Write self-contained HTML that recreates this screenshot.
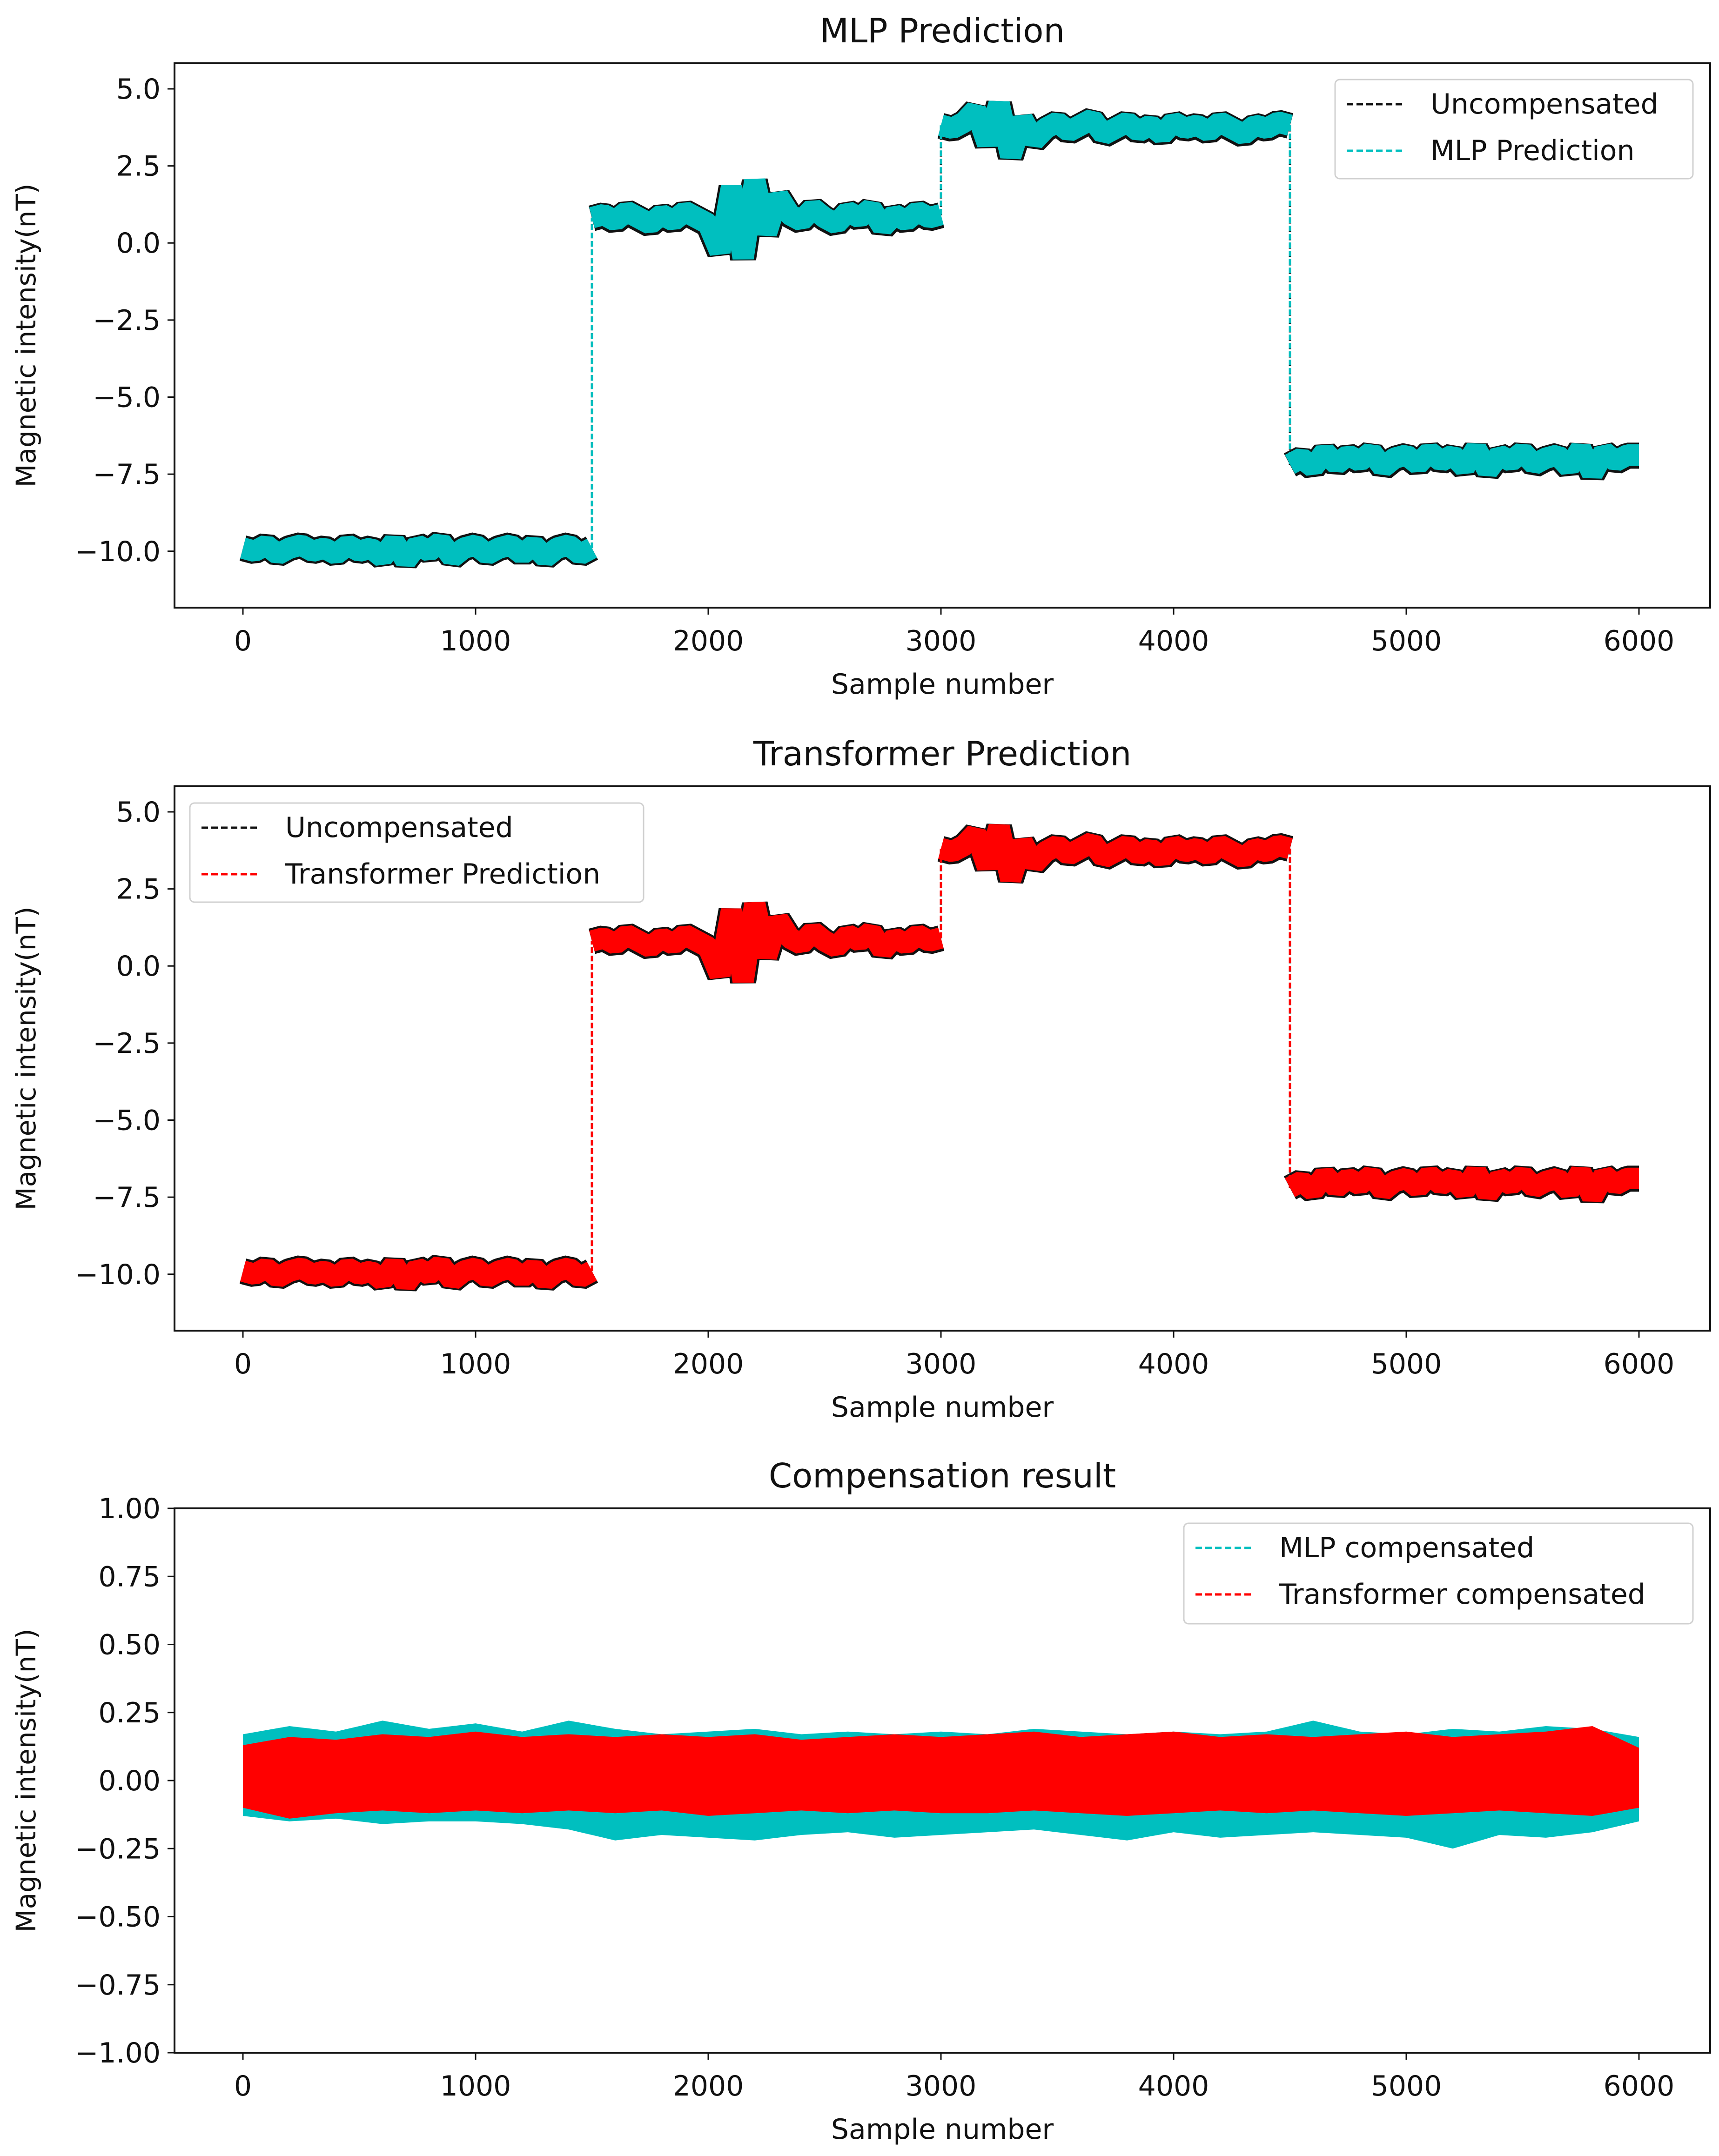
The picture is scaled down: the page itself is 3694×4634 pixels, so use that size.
<!DOCTYPE html>
<html><head><meta charset="utf-8"><style>
html,body{margin:0;padding:0;background:#fff;}
svg{display:block;font-family:"DejaVu Sans","Liberation Sans",sans-serif;}
</style></head><body>
<svg id="fig" width="3694" height="4634" viewBox="0 0 3694 4634" xmlns="http://www.w3.org/2000/svg"></svg>
<script>
// ---- data ----
const xTicks = [0,1000,2000,3000,4000,5000,6000];
const yTicksTop = [5.0,2.5,0.0,-2.5,-5.0,-7.5,-10.0];
const yTicksBottom = [1.00,0.75,0.50,0.25,0.00,-0.25,-0.50,-0.75,-1.00];
const segmentStarts = [0,1500,3000,4500];
const segmentStep = 50;
const uncompensated = [
 [-9.9,-10.0,-9.8,-10.1,-9.9,-9.8,-10.0,-9.9,-10.1,-9.8,-10.0,-9.9,-10.2,-9.7,-10.3,-9.8,-10.0,-9.7,-10.2,-9.9,-9.8,-10.1,-9.9,-9.8,-10.1,-9.8,-10.2,-9.9,-9.8,-10.1,-9.9],
 [0.8,0.9,0.7,1.0,0.8,0.6,0.9,0.7,1.0,0.8,0.6,-0.3,1.8,-0.5,2.0,0.3,1.5,0.9,0.7,1.1,0.8,0.6,1.0,0.8,1.1,0.5,0.9,0.7,1.0,0.8,0.9],
 [3.8,3.7,3.9,4.3,3.2,4.5,2.8,4.0,3.3,3.7,3.9,3.6,3.8,4.0,3.5,3.7,3.9,3.6,3.8,3.5,3.9,3.7,3.8,3.6,3.9,3.7,3.5,3.8,3.7,3.9,3.8],
 [-7.2,-7.0,-7.3,-6.8,-7.2,-6.9,-7.1,-6.8,-7.3,-7.0,-6.9,-7.2,-6.8,-7.1,-6.9,-7.3,-6.7,-7.4,-6.9,-7.1,-6.8,-7.2,-7.0,-6.9,-7.3,-6.7,-7.5,-6.8,-7.1,-6.9,-6.9]
];
const mlpPrediction = [
 [-9.9,-10.0,-9.8,-10.1,-9.9,-9.8,-10.0,-9.9,-10.1,-9.8,-10.0,-9.9,-10.2,-9.7,-10.3,-9.8,-10.0,-9.7,-10.2,-9.9,-9.8,-10.1,-9.9,-9.8,-10.1,-9.8,-10.2,-9.9,-9.8,-10.1,-9.9],
 [0.82,0.92,0.72,1.02,0.82,0.62,0.92,0.72,1.02,0.82,0.62,-0.28,1.82,-0.48,2.02,0.32,1.52,0.92,0.72,1.12,0.82,0.62,1.02,0.82,1.12,0.52,0.92,0.72,1.02,0.82,0.92],
 [3.82,3.72,3.92,4.32,3.22,4.52,2.82,4.02,3.32,3.72,3.92,3.62,3.82,4.02,3.52,3.72,3.92,3.62,3.82,3.52,3.92,3.72,3.82,3.62,3.92,3.72,3.52,3.82,3.72,3.92,3.82],
 [-7.18,-6.98,-7.28,-6.78,-7.18,-6.88,-7.08,-6.78,-7.28,-6.98,-6.88,-7.18,-6.78,-7.08,-6.88,-7.28,-6.68,-7.38,-6.88,-7.08,-6.78,-7.18,-6.98,-6.88,-7.28,-6.68,-7.48,-6.78,-7.08,-6.88,-6.88]
];
const transformerPrediction = [
 [-9.9,-10.0,-9.8,-10.1,-9.9,-9.8,-10.0,-9.9,-10.1,-9.8,-10.0,-9.9,-10.2,-9.7,-10.3,-9.8,-10.0,-9.7,-10.2,-9.9,-9.8,-10.1,-9.9,-9.8,-10.1,-9.8,-10.2,-9.9,-9.8,-10.1,-9.9],
 [0.81,0.91,0.71,1.01,0.81,0.61,0.91,0.71,1.01,0.81,0.61,-0.29,1.81,-0.49,2.01,0.31,1.51,0.91,0.71,1.11,0.81,0.61,1.01,0.81,1.11,0.51,0.91,0.71,1.01,0.81,0.91],
 [3.81,3.71,3.91,4.31,3.21,4.51,2.81,4.01,3.31,3.71,3.91,3.61,3.81,4.01,3.51,3.71,3.91,3.61,3.81,3.51,3.91,3.71,3.81,3.61,3.91,3.71,3.51,3.81,3.71,3.91,3.81],
 [-7.19,-6.99,-7.29,-6.79,-7.19,-6.89,-7.09,-6.79,-7.29,-6.99,-6.89,-7.19,-6.79,-7.09,-6.89,-7.29,-6.69,-7.39,-6.89,-7.09,-6.79,-7.19,-6.99,-6.89,-7.29,-6.69,-7.49,-6.79,-7.09,-6.89,-6.89]
];
const residualX = [0,200,400,600,800,1000,1200,1400,1600,1800,2000,2200,2400,2600,2800,3000,3200,3400,3600,3800,4000,4200,4400,4600,4800,5000,5200,5400,5600,5800,6000];
const mlpUpper = [0.17,0.20,0.18,0.22,0.19,0.21,0.18,0.22,0.19,0.17,0.18,0.19,0.17,0.18,0.17,0.18,0.17,0.19,0.18,0.17,0.18,0.17,0.18,0.22,0.18,0.17,0.19,0.18,0.20,0.19,0.16];
const mlpLower = [-0.13,-0.15,-0.14,-0.16,-0.15,-0.15,-0.16,-0.18,-0.22,-0.20,-0.21,-0.22,-0.20,-0.19,-0.21,-0.20,-0.19,-0.18,-0.20,-0.22,-0.19,-0.21,-0.20,-0.19,-0.20,-0.21,-0.25,-0.20,-0.21,-0.19,-0.15];
const trUpper = [0.13,0.16,0.15,0.17,0.16,0.18,0.16,0.17,0.16,0.17,0.16,0.17,0.15,0.16,0.17,0.16,0.17,0.18,0.16,0.17,0.18,0.16,0.17,0.16,0.17,0.18,0.16,0.17,0.18,0.20,0.12];
const trLower = [-0.10,-0.14,-0.12,-0.11,-0.12,-0.11,-0.12,-0.11,-0.12,-0.11,-0.13,-0.12,-0.11,-0.12,-0.11,-0.12,-0.12,-0.11,-0.12,-0.13,-0.12,-0.11,-0.12,-0.11,-0.12,-0.13,-0.12,-0.11,-0.12,-0.13,-0.10];

// ---- layout ----
const NS = "http://www.w3.org/2000/svg";
const svg = document.getElementById('fig');
const L = 375, R = 3675;
const X0 = 522, PXPER = 0.5;
function xs(v){ return X0 + v*PXPER; }
function mk(tag, attrs, parent){
  const e = document.createElementNS(NS, tag);
  for (const k in attrs) e.setAttribute(k, attrs[k]);
  (parent||svg).appendChild(e);
  return e;
}
function txt(s, x, y, size, anchor, parent){
  const t = mk('text', {x:x, y:y, 'font-size':size, 'text-anchor':anchor||'middle', fill:'#111'}, parent);
  t.textContent = s;
  return t;
}
function fmt(v, d){ const s = Math.abs(v).toFixed(d); return (v < 0 ? '\u2212' : '') + s; }

function makeAxes(idx, top, bottom, ymin, ymax, yticks, dec, title){
  const g = mk('g', {});
  
  
  const ys = v => bottom - (v - ymin) / (ymax - ymin) * (bottom - top);
  const tt = txt(title, (L+R)/2, top - 45, 72, 'middle', g);
  
  
  const yl = txt('Magnetic intensity(nT)', 0, 0, 58, 'middle', g);
  yl.setAttribute('transform', 'translate(76,' + ((top+bottom)/2) + ') rotate(-90)');
  
  
  const xl = txt('Sample number', (L+R)/2, bottom + 185, 60, 'middle', g);
  
  
  xTicks.forEach(v => {
    const l = mk('line', {x1:xs(v), x2:xs(v), y1:bottom, y2:bottom+15, stroke:'#111', 'stroke-width':3}, g);
    
    
    const t = txt(String(v), xs(v), bottom + 92, 60, 'middle', g);
    
    
  });
  yticks.forEach(v => {
    const l = mk('line', {x1:L-15, x2:L, y1:ys(v), y2:ys(v), stroke:'#111', 'stroke-width':3}, g);
    
    
    const t = txt(fmt(v, dec), L-30, ys(v) + 21, 60, 'end', g);
    
    
  });
  const plot = mk('g', {}, g);
  
  
  return {g, plot, ys, top, bottom};
}
function frame(ax){
  const r = mk('rect', {x:L, y:ax.top, width:R-L, height:ax.bottom-ax.top, fill:'none', stroke:'#111', 'stroke-width':4}, ax.g);
  
  
}
function drawSignal(ax, segs, color, width, name){
  let prevEnd = null;
  segs.forEach((seg, si) => {
    const pts = seg.map((v, i) => xs(segmentStarts[si] + i*segmentStep) + ',' + ax.ys(v)).join(' ');
    const p = mk('polyline', {points:pts, fill:'none', stroke:color, 'stroke-width':width, 'stroke-linejoin':'bevel'}, ax.plot);
    
    
    if (prevEnd !== null){
      const l = mk('line', {x1:xs(segmentStarts[si]), x2:xs(segmentStarts[si]), y1:ax.ys(prevEnd), y2:ax.ys(seg[0]), stroke:color, 'stroke-width':5, 'stroke-dasharray':'12,6'}, ax.plot);
      
      
    }
    prevEnd = seg[seg.length-1];
  });
}
function drawBand(ax, upper, lower, color, name){
  const up = residualX.map((x,i) => xs(x) + ',' + ax.ys(upper[i]));
  const lo = residualX.map((x,i) => xs(x) + ',' + ax.ys(lower[i])).reverse();
  const p = mk('polygon', {points: up.concat(lo).join(' '), fill:color}, ax.plot);
  
  
}
function legend(x, y, w, h, entries){
  const g = mk('g', {});
  
  
  mk('rect', {x:x, y:y, width:w, height:h, rx:10, fill:'#fff', stroke:'#d0d0d0', 'stroke-width':3}, g);
  entries.forEach((e, i) => {
    const cy = y + 53 + i*100;
    const l = mk('line', {x1:x+25, x2:x+150, y1:cy, y2:cy, stroke:e[1], 'stroke-width':5, 'stroke-dasharray':'14,7'}, g);
    
    
    const t = txt(e[0], x+205, cy + 20, 60, 'start', g);
    
    
  });
}

// Panel 1
const a1 = makeAxes(1, 136, 1306, -11.83, 5.83, yTicksTop, 1, 'MLP Prediction');
drawSignal(a1, uncompensated, '#111', 56, 'uncompensated');
drawSignal(a1, mlpPrediction, '#00bfbf', 46, 'mlp-prediction');
frame(a1);
legend(2869, 171, 769, 213, [['Uncompensated','#111'],['MLP Prediction','#00bfbf']]);

// Panel 2
const a2 = makeAxes(2, 1690, 2860, -11.83, 5.83, yTicksTop, 1, 'Transformer Prediction');
drawSignal(a2, uncompensated, '#111', 56, 'uncompensated');
drawSignal(a2, transformerPrediction, '#ff0000', 46, 'transformer-prediction');
frame(a2);
legend(408, 1726, 975, 213, [['Uncompensated','#111'],['Transformer Prediction','#ff0000']]);

// Panel 3
const a3 = makeAxes(3, 3242, 4412, -1, 1, yTicksBottom, 2, 'Compensation result');
drawBand(a3, mlpUpper, mlpLower, '#00bfbf', 'mlp-compensated-band');
drawBand(a3, trUpper, trLower, '#ff0000', 'transformer-compensated-band');
frame(a3);
legend(2544, 3274, 1094, 216, [['MLP compensated','#00bfbf'],['Transformer compensated','#ff0000']]);
</script>
</body></html>
